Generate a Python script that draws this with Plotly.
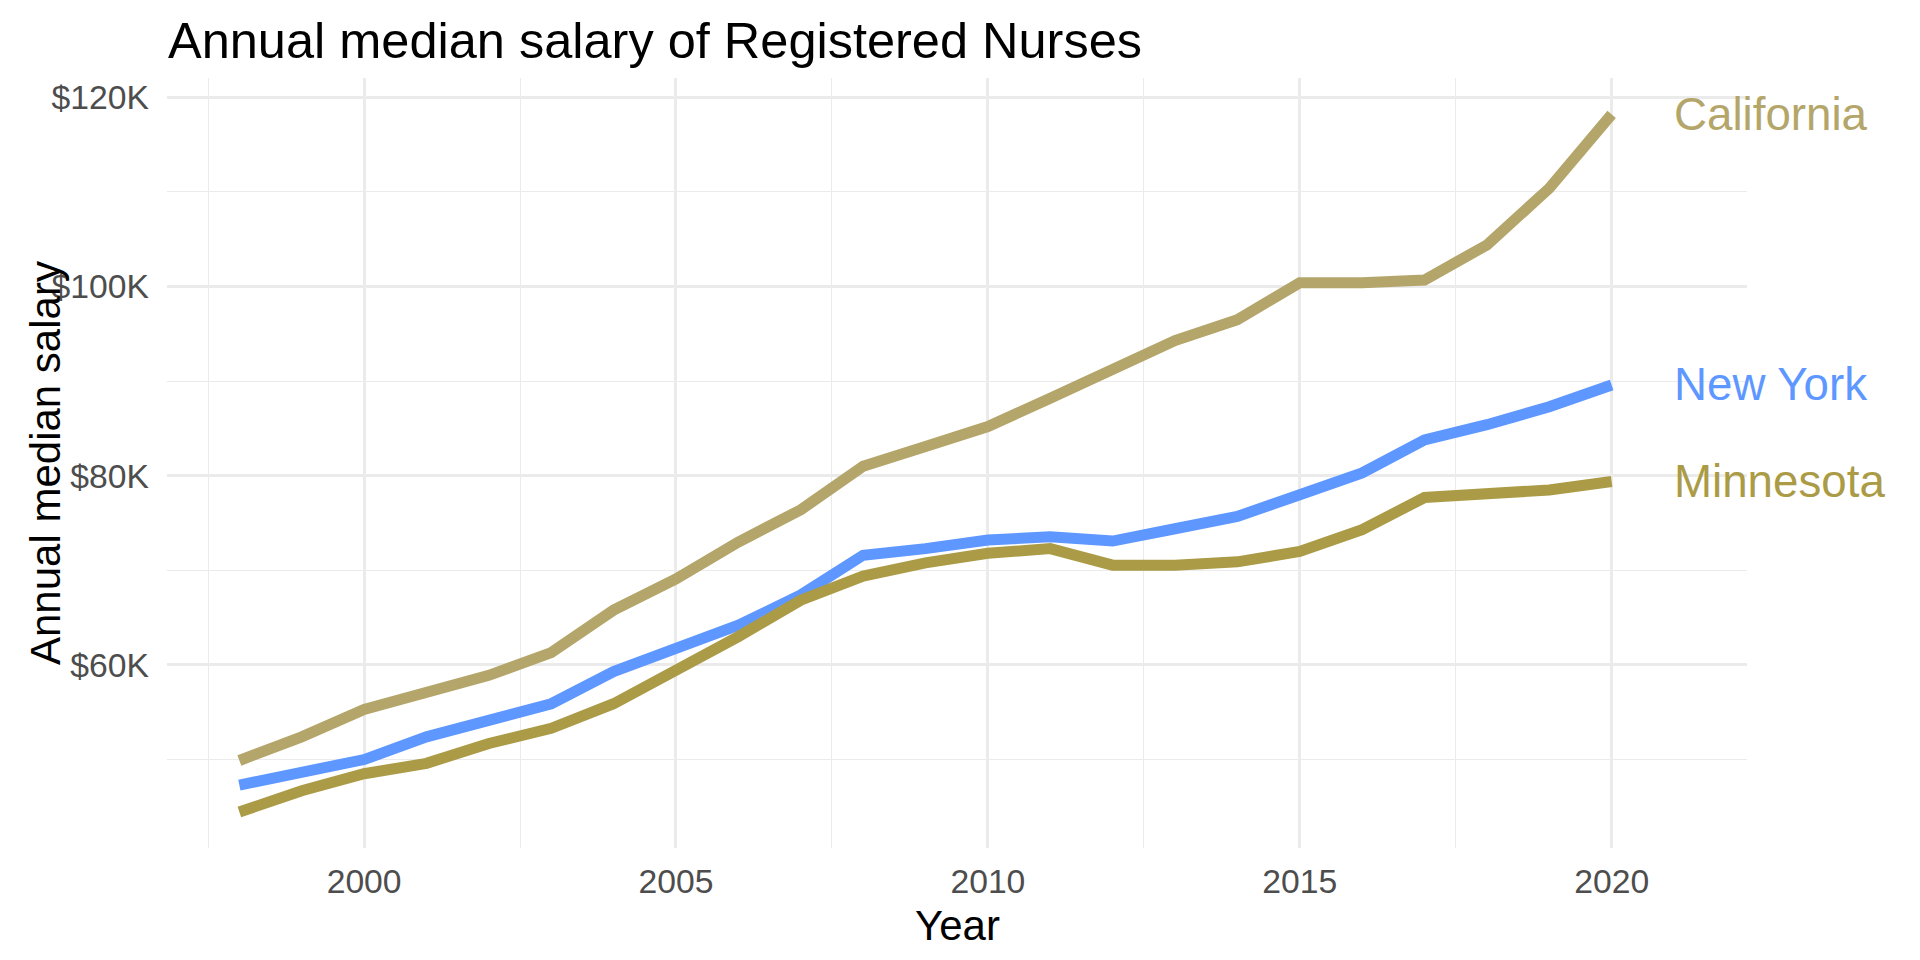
import plotly.graph_objects as go

# Annual median salary (USD), Registered Nurses
years = list(range(1998, 2021))
california = [49900, 52400, 55300, 57000, 58900, 61300, 65800, 69100, 73000, 76400, 81000, 83100,
              85200, 88200, 91200, 94300, 96500, 100400, 100400, 100700, 104400, 110400, 118200]
new_york = [47300, 48600, 50000, 52400, 54300, 55900, 59300, 61700, 64200, 67400, 71600, 72300,
            73200, 73550, 73100, 74400, 75700, 78000, 80300, 83800, 85400, 87300, 89600]
minnesota = [44450, 46700, 48500, 49600, 51700, 53300, 55900, 59400, 63000, 66850, 69400, 70800,
             71800, 72300, 70550, 70550, 70900, 72000, 74300, 77700, 78000, 78500, 79400]

states = ["California", "New York", "Minnesota"]
series = [california, new_york, minnesota]
colors = ["#B4A66A", "#5D97FF", "#AB9B46"]

y_ticks = [60000, 80000, 100000, 120000]
y_labels = ["$60K", "$80K", "$100K", "$120K"]
x_ticks = [2000, 2005, 2010, 2015, 2020]

FONT = "Liberation Sans, Arial, sans-serif"
# the page body adds an 8px margin, so the figure is 16px smaller than the window
W, H = 1904, 944
L, R, T, B = 159, 165, 70, 104
plot_w = W - L - R
plot_h = H - T - B

fig = go.Figure()
for name, vals, col in zip(states, series, colors):
    fig.add_trace(go.Scatter(x=years, y=vals, mode="lines", name=name,
                             line=dict(color=col, width=11), hoverinfo="x+y+name"))
    # direct label at the end of each line
    fig.add_annotation(x=2021, y=vals[-1], xref="x", yref="y", text=name, showarrow=False,
                       xanchor="left", yanchor="middle", xshift=-2,
                       font=dict(family=FONT, size=45.7, color=col))

# axis titles placed by hand (the y title overlaps the tick labels in the original)
fig.add_annotation(x=0.5, y=(H - B - 917) / plot_h, xref="paper", yref="paper", text="Year",
                   showarrow=False, xanchor="center", yanchor="middle",
                   font=dict(family=FONT, size=42, color="black"))
fig.add_annotation(x=(37 - L) / plot_w, y=0.5, xref="paper", yref="paper",
                   text="Annual median salary", textangle=-90, showarrow=False,
                   xanchor="center", yanchor="middle",
                   font=dict(family=FONT, size=42, color="black"))

grid = "#EBEBEB"
fig.update_layout(
    width=W, height=H,
    margin=dict(l=L, r=R, t=T, b=B),
    plot_bgcolor="white", paper_bgcolor="white",
    showlegend=False,
    font=dict(family=FONT),
    title=dict(text="Annual median salary of Registered Nurses", xref="container", yref="container",
               x=160 / W, y=1 - 32 / H, xanchor="left", yanchor="middle",
               font=dict(family=FONT, size=50.5, color="black")),
    xaxis=dict(
        range=[1996.84, 2022.17],
        tickvals=x_ticks,
        showgrid=True, gridcolor=grid, gridwidth=2.6,
        minor=dict(dtick=2.5, tick0=2000, showgrid=True, gridcolor=grid, gridwidth=1.4),
        zeroline=False, showline=False, ticks="",
        ticklabelstandoff=10,
        tickfont=dict(family=FONT, size=33.7, color="#4D4D4D"),
    ),
    yaxis=dict(
        range=[40650, 122050],
        tickvals=y_ticks, ticktext=y_labels,
        showgrid=True, gridcolor=grid, gridwidth=2.6,
        minor=dict(dtick=10000, tick0=0, showgrid=True, gridcolor=grid, gridwidth=1.4),
        zeroline=False, showline=False, ticks="",
        ticklabelstandoff=17,
        tickfont=dict(family=FONT, size=33.7, color="#4D4D4D"),
    ),
)

fig.write_html("out.html")
